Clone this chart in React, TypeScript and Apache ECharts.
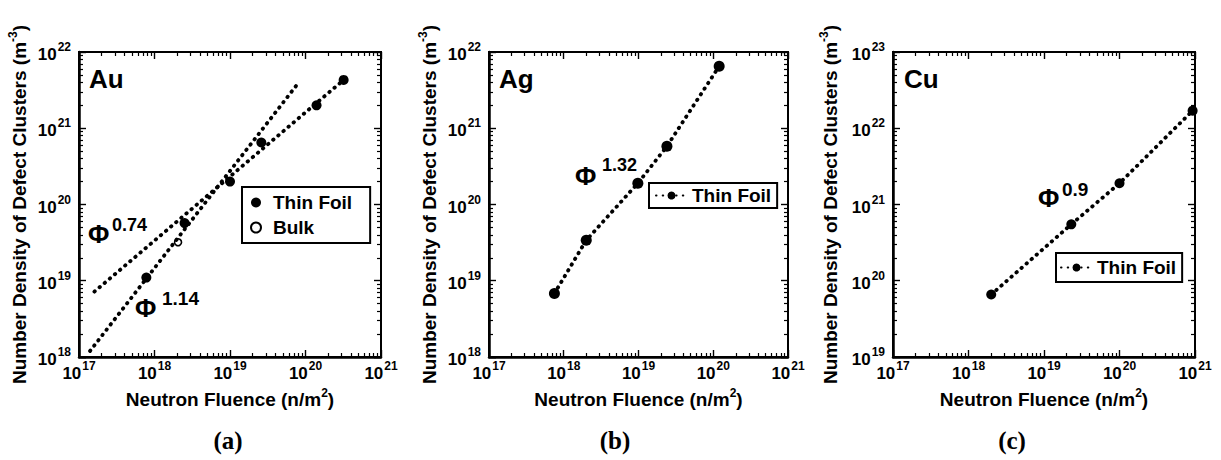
import { useEffect, useRef } from "react";
import * as echarts from "echarts";

// ---- data ----
const fluenceRange = [1e17, 1e21];
const densityRangeAu = [1e18, 1e22];
const densityRangeAg = [1e18, 1e22];
const densityRangeCu = [1e19, 1e23];

const auFoilFluence = [7.8e17, 2.5e18, 1.0e19, 2.6e19, 1.4e20, 3.2e20];
const auFoilDensity = [1.1e19, 5.7e19, 2.0e20, 6.5e20, 2.0e21, 4.3e21];
const auBulkFluence = [2.05e18];
const auBulkDensity = [3.2e19];
const auFit074Fluence = [1.6e17, 3.2e20];
const auFit074Density = [7.2e18, 4.3e21];
const auFit114Fluence = [1.4e17, 8.0e19];
const auFit114Density = [1.2e18, 3.9e21];

const agFluence = [7.5e17, 2.0e18, 9.8e18, 2.4e19, 1.2e20];
const agDensity = [6.8e18, 3.4e19, 1.9e20, 5.8e20, 6.5e21];

const cuFluence = [2.0e18, 2.3e19, 1.0e20, 9.3e20];
const cuDensity = [6.6e19, 5.5e20, 1.9e21, 1.7e22];

const FONT = "Liberation Sans";

function zip(xs: number[], ys: number[]) {
  return xs.map((x, i) => [x, ys[i]]);
}

const supLabel = (v: number) => `{b|10}{s|${Math.round(Math.log10(v))}}`;
const labelRich = {
  b: { fontFamily: FONT, fontWeight: "bold", fontSize: 17, color: "#000", lineHeight: 22, verticalAlign: "bottom" },
  s: { fontFamily: FONT, fontWeight: "bold", fontSize: 12, color: "#000", lineHeight: 22, verticalAlign: "top", padding: [0, 0, 0, 1] },
};
const nameRich = {
  n: { fontFamily: FONT, fontWeight: "bold", fontSize: 19, color: "#000", lineHeight: 22, verticalAlign: "bottom" },
  s: { fontFamily: FONT, fontWeight: "bold", fontSize: 12, color: "#000", lineHeight: 22, verticalAlign: "top" },
};

const grids = [
  { left: 79, top: 52, width: 302, height: 305 },
  { left: 489, top: 52, width: 299, height: 305 },
  { left: 893, top: 52, width: 302, height: 305 },
];
const yRanges = [densityRangeAu, densityRangeAg, densityRangeCu];
const yNameGaps = [50, 50, 53];

const dotted = { color: "#000", width: 3.8, type: [0.5, 6.2], cap: "round" };

const tickStyle = { show: true, inside: true, length: 7, lineStyle: { color: "#000", width: 1.4 } };
const minorStyle = { show: true, splitNumber: 9, length: 4, lineStyle: { color: "#000", width: 1.2 } };

export default function App() {
  const ref = useRef<HTMLDivElement>(null);
  useEffect(() => {
    document.body.style.margin = "0";
    const chart = echarts.init(ref.current!, null, { renderer: "svg" });

    const xMain = grids.map((_, i) => ({
      type: "log",
      gridIndex: i,
      min: fluenceRange[0],
      max: fluenceRange[1],
      name: "{n|Neutron Fluence (n/m}{s|2}{n|)}",
      nameLocation: "middle",
      nameGap: 30,
      nameTextStyle: { rich: nameRich },
      axisLine: { lineStyle: { color: "#000", width: 2.5 } },
      axisTick: tickStyle,
      minorTick: minorStyle,
      splitLine: { show: false },
      minorSplitLine: { show: false },
      axisLabel: { formatter: supLabel, rich: labelRich, margin: 3 },
    }));
    const xTop = grids.map((_, i) => ({
      type: "log",
      gridIndex: i,
      position: "top",
      min: fluenceRange[0],
      max: fluenceRange[1],
      axisLine: { show: false },
      axisTick: tickStyle,
      minorTick: minorStyle,
      splitLine: { show: false },
      minorSplitLine: { show: false },
      axisLabel: { show: false },
    }));
    const yMain = grids.map((_, i) => ({
      type: "log",
      gridIndex: i,
      min: yRanges[i][0],
      max: yRanges[i][1],
      name: "{n|Number Density of Defect Clusters (m}{s|-3}{n|)}",
      nameLocation: "middle",
      nameRotate: 90,
      nameGap: yNameGaps[i],
      nameTextStyle: { rich: nameRich },
      axisLine: { lineStyle: { color: "#000", width: 2.5 } },
      axisTick: tickStyle,
      minorTick: minorStyle,
      splitLine: { show: false },
      minorSplitLine: { show: false },
      axisLabel: { formatter: supLabel, rich: labelRich, margin: 8 },
    }));
    const yRight = grids.map((_, i) => ({
      type: "log",
      gridIndex: i,
      position: "right",
      min: yRanges[i][0],
      max: yRanges[i][1],
      axisLine: { show: false },
      axisTick: tickStyle,
      minorTick: minorStyle,
      splitLine: { show: false },
      minorSplitLine: { show: false },
      axisLabel: { show: false },
    }));

    const legendBase = {
      orient: "vertical",
      borderColor: "#000",
      borderWidth: 2,
      backgroundColor: "#fff",
      textStyle: { fontFamily: FONT, fontWeight: "bold", fontSize: 19, color: "#000" },
      formatter: (n: string) => n.split("_")[0],
    };

    const phi = (x: number, y: number, exp: string, ex: number, ey: number, fs: number) => [
      { type: "text", left: x, top: y, style: { text: "Φ", font: `bold 26px ${FONT}`, fill: "#000" } },
      { type: "text", left: ex, top: ey, style: { text: exp, font: `bold ${fs}px ${FONT}`, fill: "#000" } },
    ];
    const big = (x: number, y: number, t: string) => ({
      type: "text", left: x, top: y, style: { text: t, font: `bold 26px ${FONT}`, fill: "#000" },
    });
    const cap = (cx: number, t: string) => ({
      type: "text", x: cx, y: 440, style: { text: t, font: `bold 25px "Liberation Serif"`, fill: "#000", align: "center", verticalAlign: "middle" },
    });

    chart.setOption({
      animation: false,
      backgroundColor: "#fff",
      grid: grids.map((g) => ({ ...g, show: true, borderColor: "#000", borderWidth: 2 })),
      xAxis: [...xMain, ...xTop],
      yAxis: [...yMain, ...yRight],
      legend: [
        { ...legendBase, left: 242, top: 187, padding: [6, 18, 6, 8], itemGap: 6, itemWidth: 24, itemHeight: 10, data: ["Thin Foil_a", "Bulk"] },
        { ...legendBase, left: 649, top: 183, padding: [3, 6, 3, 6], itemWidth: 31, itemHeight: 10, data: ["Thin Foil_b"] },
        { ...legendBase, left: 1056, top: 253, padding: [5, 6, 5, 4], itemWidth: 31, itemHeight: 10, data: ["Thin Foil_c"] },
      ],
      series: [
        { type: "line", name: "fit074", xAxisIndex: 0, yAxisIndex: 0, data: zip(auFit074Fluence, auFit074Density), symbol: "none", lineStyle: dotted, silent: true },
        { type: "line", name: "fit114", xAxisIndex: 0, yAxisIndex: 0, data: zip(auFit114Fluence, auFit114Density), symbol: "none", lineStyle: dotted, silent: true },
        { type: "scatter", name: "Thin Foil_a", xAxisIndex: 0, yAxisIndex: 0, data: zip(auFoilFluence, auFoilDensity), symbolSize: 10, itemStyle: { color: "#000", opacity: 1 } },
        { type: "scatter", name: "Bulk", xAxisIndex: 0, yAxisIndex: 0, data: zip(auBulkFluence, auBulkDensity), symbolSize: 7, itemStyle: { color: "#fff", borderColor: "#000", borderWidth: 1.6, opacity: 1 } },
        { type: "line", name: "Thin Foil_b", xAxisIndex: 1, yAxisIndex: 1, data: zip(agFluence, agDensity), symbol: "circle", symbolSize: 11, itemStyle: { color: "#000" }, lineStyle: dotted },
        { type: "line", name: "Thin Foil_c", xAxisIndex: 2, yAxisIndex: 2, data: zip(cuFluence, cuDensity), symbol: "circle", symbolSize: 10, itemStyle: { color: "#000" }, lineStyle: dotted },
      ],
      graphic: [
        big(89, 66, "Au"),
        big(499, 66, "Ag"),
        big(904, 66, "Cu"),
        ...phi(88, 221, "0.74", 112, 216, 18),
        ...phi(135, 295, "1.14", 162, 289, 19),
        ...phi(575, 163, "1.32", 602, 156, 18),
        ...phi(1038, 185, "0.9", 1062, 180, 19),
        cap(228, "(a)"),
        cap(615, "(b)"),
        cap(1012, "(c)"),
      ],
    });
    return () => chart.dispose();
  }, []);
  return <div ref={ref} style={{ width: 1221, height: 460 }} />;
}
